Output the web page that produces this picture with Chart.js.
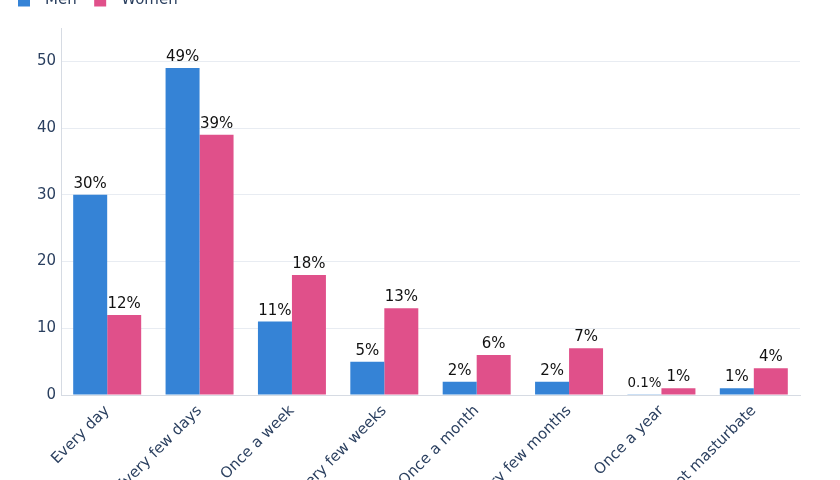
<!DOCTYPE html>
<html><head><meta charset="utf-8">
<script src="https://cdn.jsdelivr.net/npm/chart.js@4"></script>
<style>
html,body{margin:0;padding:0;background:#fff;overflow:hidden;width:840px;height:480px}
#wrap{position:absolute;left:0;top:-17px;width:840px;height:600px}
</style></head><body>
<div id="wrap"><canvas id="c" width="840" height="600"></canvas></div>
<script>
const categories = ["Every day","Every few days","Once a week","Every few weeks","Once a month","Every few months","Once a year","Do not masturbate"];
const menValues = [30,49,11,5,2,2,0.1,1];
const womenValues = [12,39,18,13,6,7,1,4];
const yTicks = [0,10,20,30,40,50];
const seriesNames = ["Men","Women"];

const FONT = "'DejaVu Sans', Verdana, sans-serif";
const TICK_COLOR = '#2a3f5f';

const barLabels = {
  id:'barLabels',
  afterDatasetsDraw(chart){
    const ctx = chart.ctx;
    ctx.save();
    chart.data.datasets.forEach((ds,di)=>{
      const meta = chart.getDatasetMeta(di);
      meta.data.forEach((bar,i)=>{
        const txt = ds.data[i] + '%';
        let size = 15;
        ctx.font = size + 'px ' + FONT;
        const w = ctx.measureText(txt).width;
        const bw = bar.width;
        if (w > bw) { size = size * bw / w; ctx.font = size + 'px ' + FONT; }
        ctx.fillStyle = '#111';
        ctx.textAlign = 'center';
        ctx.textBaseline = 'alphabetic';
        ctx.fillText(txt, bar.x, bar.y - 7);
      });
    });
    ctx.restore();
  }
};

const legendFit = {
  id:'legendFit',
  beforeInit(chart){
    const orig = chart.legend.fit;
    chart.legend.fit = function(){ orig.bind(chart.legend)(); this.height = 45; };
  }
};

new Chart(document.getElementById('c'), {
  type:'bar',
  data:{
    labels: categories,
    datasets:[
      {label:seriesNames[0], data:menValues, backgroundColor:'#3583d6', categoryPercentage:0.736, barPercentage:1},
      {label:seriesNames[1], data:womenValues, backgroundColor:'#e0508a', categoryPercentage:0.736, barPercentage:1}
    ]
  },
  options:{
    responsive:false,
    animation:false,
    layout:{padding:{left:8,right:40,top:0,bottom:0}},
    plugins:{
      legend:{
        display:true, position:'top', align:'start',
        labels:{
          boxWidth:12, boxHeight:12, padding:10, color:TICK_COLOR,
          font:{family:FONT,size:15},
          generateLabels(chart){
            return chart.data.datasets.map((d,i)=>({
              text:'\u2002'+d.label+'\u2002', fillStyle:d.backgroundColor, strokeStyle:d.backgroundColor,
              lineWidth:0, datasetIndex:i, hidden:false, fontColor:TICK_COLOR
            }));
          }
        }
      },
      tooltip:{enabled:false}
    },
    scales:{
      x:{
        grid:{display:false, drawTicks:false},
        border:{display:true, color:'#d6dbe3', width:1},
        ticks:{color:TICK_COLOR, font:{family:FONT,size:15}, minRotation:45, maxRotation:45, padding:7, autoSkip:false},
        afterFit(s){ s.height = 188; }
      },
      y:{
        min:0, max:55,
        afterBuildTicks(s){ s.ticks = yTicks.map(v=>({value:v})); },
        grid:{color:'#e8ecf2', drawTicks:false},
        border:{display:true, color:'#d6dbe3', width:1},
        ticks:{color:TICK_COLOR, font:{family:FONT,size:15}, padding:5},
        afterFit(s){ s.width = 53; }
      }
    }
  },
  plugins:[barLabels, legendFit]
});
</script>
</body></html>
